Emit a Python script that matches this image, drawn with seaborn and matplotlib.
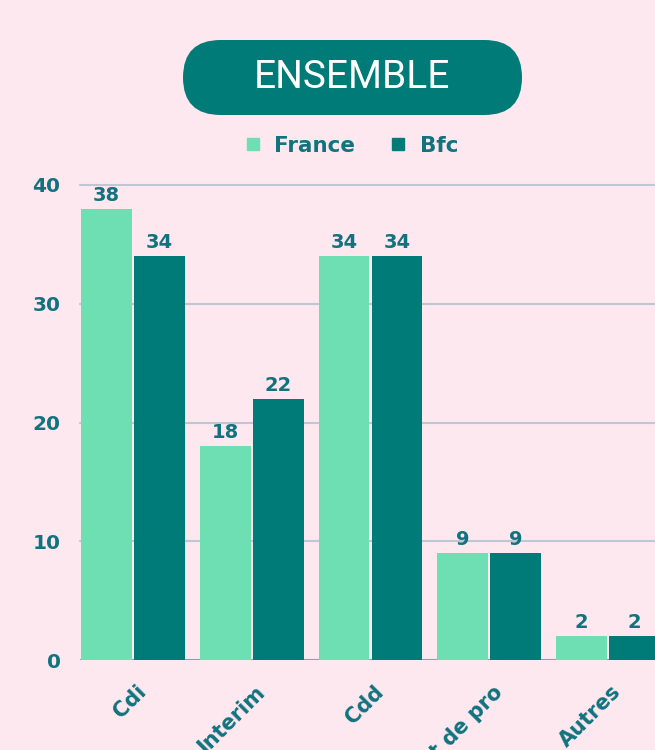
import matplotlib
matplotlib.use("Agg")
import matplotlib.pyplot as plt
import matplotlib.transforms as mtransforms
from matplotlib.patches import FancyBboxPatch
from matplotlib.lines import Line2D
import seaborn as sns
import pandas as pd

categories = ["Cdi", "Interim", "Cdd", "Contrat de pro", "Autres"]
series = ["France", "Bfc"]
france = [38, 18, 34, 9, 2]
bfc = [34, 22, 34, 9, 2]
yticks = [0, 10, 20, 30, 40]
title = "ENSEMBLE"

BG = "#fde8ef"
TEAL = "#007b78"
LIGHT = "#6ddfb2"
TXT = "#10737e"
W = "bold"

df = pd.DataFrame({
    "cat": categories * 2,
    "serie": ["France"] * len(categories) + ["Bfc"] * len(categories),
    "val": france + bfc,
})

sns.set_theme(style="white")
plt.rcParams["font.family"] = ["DejaVu Sans"]

fig = plt.figure(figsize=(6.55, 7.5), dpi=100, facecolor=BG)
ax = fig.add_axes([80 / 655, 90 / 750, 581 / 655, 475 / 750])
ax.set_facecolor(BG)

sns.barplot(data=df, x="cat", y="val", hue="serie", order=categories,
            hue_order=series, palette=[LIGHT, TEAL], width=0.891, gap=0.04,
            ax=ax, saturation=1, linewidth=0)

ax.set_ylim(0, 40)
ax.set_xlim(-0.4455, 4.4455)
ax.set_yticks(yticks)
ax.set_xlabel("")
ax.set_ylabel("")
for s in ax.spines.values():
    s.set_visible(False)
for y in yticks[1:]:
    ax.axhline(y, color="#bfc7d5", lw=1.5, zorder=0, clip_on=False)
ax.axhline(0, color="#7fa9b2", lw=1.5, zorder=0)
ax.tick_params(axis="both", length=0)
ax.tick_params(axis="y", pad=14)
for lab in ax.get_yticklabels():
    lab.set_fontsize(14.5)
    lab.set_fontweight(W)
    lab.set_color(TXT)

ax.set_xticks(range(len(categories)))
ax.set_xticklabels(categories, rotation=45, ha="right", va="center",
                   rotation_mode="anchor", fontsize=15, fontweight=W, color=TXT)
offset = mtransforms.ScaledTranslation(10 / 100, -24 / 100, fig.dpi_scale_trans)
for lab in ax.get_xticklabels():
    lab.set_transform(lab.get_transform() + offset)

for cont in ax.containers:
    ax.bar_label(cont, padding=3, fontsize=14, fontweight=W, color=TXT)

leg = ax.get_legend()
if leg is not None:
    leg.remove()
handles = [Line2D([], [], marker="s", ls="", markersize=9, color=c) for c in [LIGHT, TEAL]]
fig.legend(handles, series, loc="center", bbox_to_anchor=(350 / 655, 1 - 146 / 750),
           ncol=2, frameon=False, handletextpad=0.5, columnspacing=1.5,
           prop={"weight": W, "size": 15.5}, labelcolor=TXT, handlelength=1.0)

pill = FancyBboxPatch((1.83, 6.35), 3.39, 0.75,
                      boxstyle="round,pad=0,rounding_size=0.375",
                      transform=fig.dpi_scale_trans, facecolor=TEAL, edgecolor="none")
fig.patches.append(pill)
fig.text(352 / 655, 1 - 77 / 750, title, ha="center", va="center", color="white",
         fontsize=28, family=["Roboto", "DejaVu Sans"])

fig.savefig("out.png", dpi=100, facecolor=BG)
